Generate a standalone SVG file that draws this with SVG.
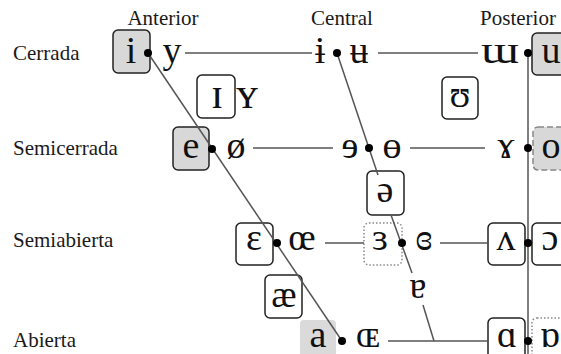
<svg xmlns="http://www.w3.org/2000/svg" width="561" height="354" viewBox="0 0 561 354">
  <style>
    .lab{font-family:"Liberation Serif","Times New Roman",serif;font-size:21px;fill:#1a1a1a}
    .hd{text-anchor:middle}
    .v{font-family:"Liberation Serif","DejaVu Serif",serif;font-size:38px;fill:#111;text-anchor:middle}
    .big{font-size:44px}
    .box{fill:#fff;stroke:#222;stroke-width:1.5}
    .sh{fill:#d8d8d8;stroke:#222;stroke-width:1.5}
    .dash{fill:#d8d8d8;stroke:#888;stroke-width:1.5;stroke-dasharray:6 3}
    .dot{fill:none;stroke:#888;stroke-width:1.5;stroke-dasharray:1.5 2}
    .bare{fill:#dadada}
    .ln{stroke:#555;stroke-width:1.5;fill:none}
    .pt{fill:#000}
  </style>

  <!-- column and row headings -->
  <g id="headings">
    <text class="lab hd" x="163" y="25">Anterior</text>
    <text class="lab hd" x="342" y="25">Central</text>
    <text class="lab hd" x="518" y="25">Posterior</text>
    <text class="lab" x="13" y="60">Cerrada</text>
    <text class="lab" x="13" y="155">Semicerrada</text>
    <text class="lab" x="13" y="247">Semiabierta</text>
    <text class="lab" x="13" y="347">Abierta</text>
  </g>

  <!-- close vowels -->
  <g id="v-i"><rect class="sh" x="113" y="30" width="37" height="43" rx="5"/><text class="v" x="131" y="63">i</text></g>
  <g id="v-y"><text class="v" x="172" y="63">y</text></g>
  <g id="v-barred-i"><text class="v" x="320" y="63">ɨ</text></g>
  <g id="v-barred-u"><text class="v" x="359" y="63">ʉ</text></g>
  <g id="v-turned-m"><text class="v" x="500" y="63" textLength="38" lengthAdjust="spacingAndGlyphs">ɯ</text></g>
  <g id="v-u"><rect class="sh" x="532" y="33" width="44" height="42" rx="5"/><text class="v" x="551" y="63">u</text></g>

  <!-- near-close vowels -->
  <g id="v-small-i"><rect class="box" x="197" y="75" width="38" height="43" rx="5"/><text class="v big" x="217" y="108">ɪ</text></g>
  <g id="v-small-y"><text class="v big" x="247" y="108">ʏ</text></g>
  <g id="v-upsilon"><rect class="box" x="442" y="77" width="36" height="42" rx="5"/><text class="v" x="460" y="107">ʊ</text></g>

  <!-- close-mid vowels -->
  <g id="v-e"><rect class="sh" x="173" y="127" width="36" height="43" rx="5"/><text class="v" x="191" y="158">e</text></g>
  <g id="v-o-slash"><text class="v" x="236" y="158">ø</text></g>
  <g id="v-rev-e"><text class="v" x="350" y="158">ɘ</text></g>
  <g id="v-barred-o"><text class="v" x="392" y="158">ɵ</text></g>
  <g id="v-ram"><text class="v" x="506" y="158">ɤ</text></g>
  <g id="v-o"><rect class="dash" x="533" y="127" width="40" height="43" rx="5"/><text class="v" x="551" y="158">o</text></g>

  <!-- mid central -->
  <g id="v-schwa"><rect class="box" x="367" y="171" width="37" height="44" rx="5"/><text class="v" x="385" y="202">ə</text></g>

  <!-- open-mid vowels -->
  <g id="v-epsilon"><rect class="box" x="236" y="223" width="37" height="42" rx="5"/><text class="v" x="254" y="250">ɛ</text></g>
  <g id="v-oe"><text class="v" x="302" y="250">œ</text></g>
  <g id="v-rev-epsilon"><rect class="dot" x="364" y="223" width="38" height="42" rx="5"/><text class="v" x="380" y="250">ɜ</text></g>
  <g id="v-closed-rev-epsilon"><text class="v" x="424" y="250">ɞ</text></g>
  <g id="v-wedge"><rect class="box" x="488" y="223" width="37" height="42" rx="5"/><text class="v" x="506" y="250">ʌ</text></g>
  <g id="v-open-o"><rect class="box" x="532" y="223" width="40" height="42" rx="5"/><text class="v" x="550" y="250">ɔ</text></g>

  <!-- near-open vowels -->
  <g id="v-ash"><rect class="box" x="265" y="275" width="37" height="43" rx="5"/><text class="v" x="284" y="307">æ</text></g>
  <g id="v-turned-a"><text class="v" x="418" y="298">ɐ</text></g>

  <!-- open vowels -->
  <g id="v-a"><rect class="bare" x="300" y="320" width="36" height="40" rx="4"/><text class="v" x="318" y="347">a</text></g>
  <g id="v-small-oe"><text class="v" x="368" y="347">ɶ</text></g>
  <g id="v-script-a"><rect class="box" x="488" y="318" width="37" height="44" rx="5"/><text class="v" x="507" y="347">ɑ</text></g>
  <g id="v-turned-script-a"><rect class="dot" x="532" y="318" width="40" height="44" rx="5"/><text class="v" x="550" y="347">ɒ</text></g>

  <!-- connectors: trapezium edges and row lines -->
  <g id="connectors">
    <line class="ln" x1="148" y1="53" x2="342" y2="341"/>
    <line class="ln" x1="337" y1="53" x2="378" y2="175"/>
    <line class="ln" x1="391" y1="215" x2="412" y2="273"/>
    <line class="ln" x1="423" y1="305" x2="434" y2="341"/>
    <line class="ln" x1="528" y1="53" x2="528" y2="354"/>
    <line class="ln" x1="185" y1="53" x2="312" y2="53"/>
    <line class="ln" x1="378" y1="53" x2="478" y2="53"/>
    <line class="ln" x1="253" y1="148" x2="333" y2="148"/>
    <line class="ln" x1="410" y1="148" x2="485" y2="148"/>
    <line class="ln" x1="325" y1="243" x2="364" y2="243"/>
    <line class="ln" x1="440" y1="243" x2="488" y2="243"/>
    <line class="ln" x1="388" y1="341" x2="488" y2="341"/>
  </g>

  <!-- pair dots -->
  <g id="points">
    <circle class="pt" cx="148" cy="53" r="4"/>
    <circle class="pt" cx="337" cy="53" r="4"/>
    <circle class="pt" cx="528" cy="53" r="4"/>
    <circle class="pt" cx="212" cy="149" r="4"/>
    <circle class="pt" cx="369" cy="148" r="4"/>
    <circle class="pt" cx="528" cy="148" r="4"/>
    <circle class="pt" cx="277" cy="243" r="4"/>
    <circle class="pt" cx="402" cy="243" r="4"/>
    <circle class="pt" cx="528" cy="243" r="4"/>
    <circle class="pt" cx="342" cy="341" r="4"/>
    <circle class="pt" cx="528" cy="341" r="4"/>
  </g>
</svg>
